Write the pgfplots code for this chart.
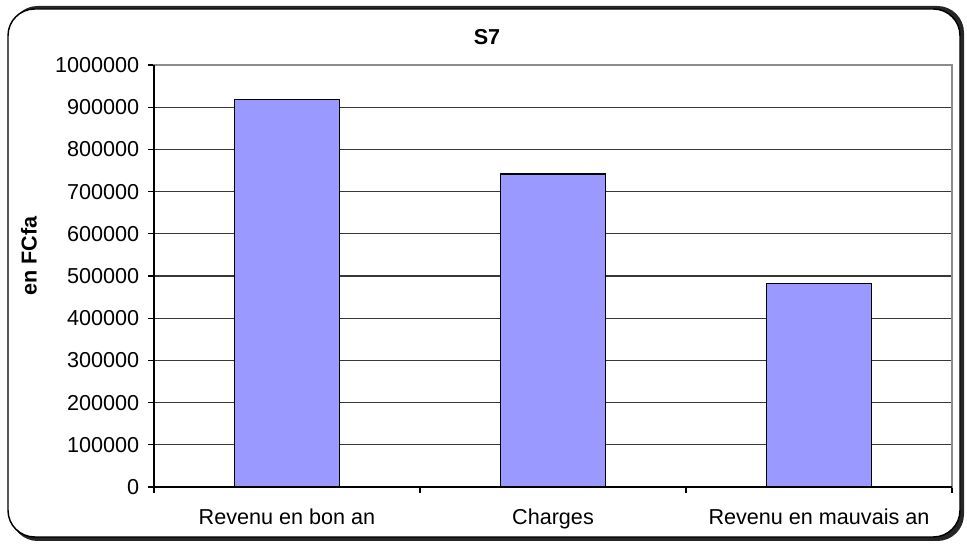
\documentclass[border=0pt]{standalone}
\usepackage{fontspec}
\setmainfont{Liberation Sans}
\usepackage{pgfplots}
\pgfplotsset{compat=1.18}
\definecolor{barfill}{HTML}{9999FF}
\begin{document}
\fontsize{16.2}{19}\selectfont
\begin{tikzpicture}
\begin{scope}[x=0.75pt,y=0.75pt]
\useasboundingbox (-154,-58) rectangle (813,487);
\fill[black!85, rounded corners=20] (-143,-54) rectangle (810,481);
\draw[black, line width=1.1pt, fill=white, rounded corners=20] (-146,-50) rectangle (806,478);
\end{scope}
\begin{axis}[
  at={(0,0)}, anchor=south west,
  scale only axis, width=598.5pt, height=316.5pt,
  xmin=-0.5, xmax=2.5, ymin=0, ymax=1000000,
  ybar, bar width=78.75pt,
  ytick={0,100000,...,1000000},
  xtick={0,1,2},
  xticklabels={Revenu en bon an, Charges, Revenu en mauvais an},
  minor xtick={-0.5,0.5,1.5,2.5},
  major x tick style={draw=none},
  xtick pos=lower, ytick pos=left,
  tick align=outside,
  major tick length=4.5pt, minor tick length=4.5pt,
  tick style={black, line width=0.8pt},
  ymajorgrids, grid style={black!78, line width=0.8pt},
  axis line style={black!45, line width=0.8pt},
  scaled y ticks=false,
  /pgf/number format/fixed,
  /pgf/number format/1000 sep={},
  /pgf/number format/assume math mode=true,
  ticklabel style={font=\fontsize{16.2}{19}\selectfont},
  xticklabel style={yshift=-6pt},
  yticklabel style={xshift=-1pt},
  clip=false,
]
\addplot[fill=barfill, draw=black, line width=1pt] coordinates {(0,918000) (1,742000) (2,482000)};
\draw[black, line width=0.9pt] (rel axis cs:0,1) -- (rel axis cs:0,0) -- (rel axis cs:1,0);
\end{axis}
\begin{scope}[x=0.75pt,y=0.75pt]
\node[font=\bfseries\fontsize{16.2}{19}\selectfont] at (333,450) {S7};
\node[font=\bfseries\fontsize{16.2}{19}\selectfont, rotate=90] at (-125,231) {en FCfa};
\end{scope}
\end{tikzpicture}
\end{document}
